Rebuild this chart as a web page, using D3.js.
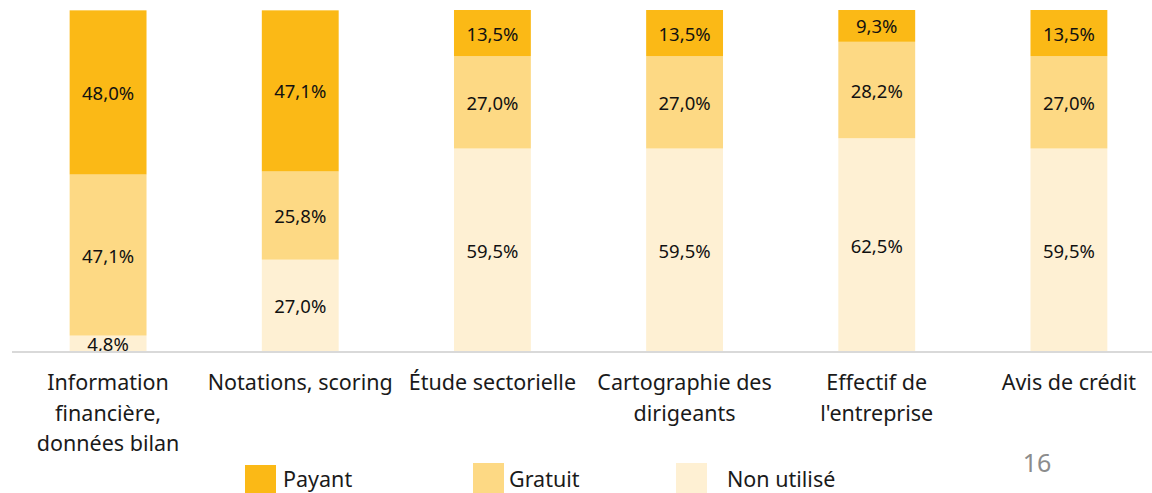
<!DOCTYPE html>
<html lang="fr">
<head>
    <meta charset="UTF-8">
    <title>Usage des sources</title>
    <script src="https://cdn.jsdelivr.net/npm/d3@7"></script>
    <style>
        html, body {
            margin: 0;
            background: #fff;
            font-family: "Noto Sans", "Open Sans", sans-serif;
        }
    </style>
</head>
<body>
    <div id="vis"></div>
    <script>
        var categories = [
            ["Information", "financière,", "données bilan"],
            ["Notations, scoring"],
            ["Étude sectorielle"],
            ["Cartographie des", "dirigeants"],
            ["Effectif de", "l'entreprise"],
            ["Avis de crédit"]
        ];
        var nonUtilise = [4.8, 27.0, 59.5, 59.5, 62.5, 59.5];
        var gratuit    = [47.1, 25.8, 27.0, 27.0, 28.2, 27.0];
        var payant     = [48.0, 47.1, 13.5, 13.5, 9.3, 13.5];
        var seriesNames = ["Non utilisé", "Gratuit", "Payant"];
        var legendOrder = ["Payant", "Gratuit", "Non utilisé"];

        var width = 1152, height = 493;
        var colours = {"Payant": "#fbb916", "Gratuit": "#fdd984", "Non utilisé": "#fef0d3"};

        var svg = d3.select('#vis')
            .append('svg')
                .attr('width', width)
                .attr('height', height);

        var rows = categories.map(function(c, i){
            return {key: i, "Non utilisé": nonUtilise[i], "Gratuit": gratuit[i], "Payant": payant[i]};
        });

        var x = d3.scaleBand()
            .domain(d3.range(categories.length))
            .range([12, 1165])
            .paddingInner(0.6)
            .paddingOuter(0.3);

        var y = d3.scaleLinear()
            .domain([0, 100])
            .range([352, 10]);

        var stacked = d3.stack().keys(seriesNames)(rows);

        var layers = svg.selectAll('.layer')
            .data(stacked)
            .enter()
            .append('g')
                .attr('class', 'layer')
                .attr('fill', function(d){ return colours[d.key]; });

        layers.selectAll('rect')
            .data(function(d){ return d; })
            .enter()
            .append('rect')
                .attr('x', function(d){ return x(d.data.key); })
                .attr('width', x.bandwidth())
                .attr('y', function(d){ return y(d[1]); })
                .attr('height', function(d){ return y(d[0]) - y(d[1]); });

        // value labels
        layers.selectAll('text')
            .data(function(d){ return d.map(function(p){ return {p: p, key: d.key}; }); })
            .enter()
            .append('text')
                .attr('x', function(d){ return x(d.p.data.key) + x.bandwidth() / 2; })
                .attr('y', function(d){ return (y(d.p[0]) + y(d.p[1])) / 2; })
                .attr('text-anchor', 'middle')
                .attr('dominant-baseline', 'central')
                .attr('fill', '#111')
                .attr('font-size', '18.5px')
                .text(function(d){ return d.p.data[d.key].toFixed(1).replace('.', ',') + '%'; });

        // axis line
        svg.append('line')
            .attr('x1', 12)
            .attr('x2', 1152)
            .attr('y1', y(0))
            .attr('y2', y(0))
            .attr('stroke', '#d9d9d9')
            .attr('stroke-width', 2);

        // category labels
        var catLabels = svg.selectAll('.cat')
            .data(categories)
            .enter()
            .append('text')
                .attr('class', 'cat')
                .attr('text-anchor', 'middle')
                .attr('fill', '#1a1a1a')
                .attr('font-size', '21.5px');

        catLabels.selectAll('tspan')
            .data(function(d, i){ return d.map(function(t){ return {t: t, i: i}; }); })
            .enter()
            .append('tspan')
                .attr('x', function(d){ return x(d.i) + x.bandwidth() / 2; })
                .attr('y', function(d, j){ return 390 + j * 30.5; })
                .text(function(d){ return d.t; });

        // legend
        var legX = [245, 473, 676];
        var legend = svg.selectAll('.leg')
            .data(legendOrder)
            .enter()
            .append('g')
                .attr('class', 'leg')
                .attr('transform', function(d, i){ return 'translate(' + legX[i] + ',0)'; });

        legend.append('rect')
            .attr('y', function(d, i){ return i === 0 ? 465 : 463; })
            .attr('width', 31)
            .attr('height', 32)
            .attr('fill', function(d){ return colours[d]; });

        legend.append('text')
            .attr('x', function(d, i){ return [38, 36, 51][i]; })
            .attr('y', 487)
            .attr('fill', '#1a1a1a')
            .attr('font-size', '21.5px')
            .text(function(d){ return d; });

        // page number
        svg.append('text')
            .attr('x', 1037)
            .attr('y', 472)
            .attr('text-anchor', 'middle')
            .attr('fill', '#8c8c8c')
            .attr('font-size', '25px')
            .text('16');
    </script>
</body>
</html>
